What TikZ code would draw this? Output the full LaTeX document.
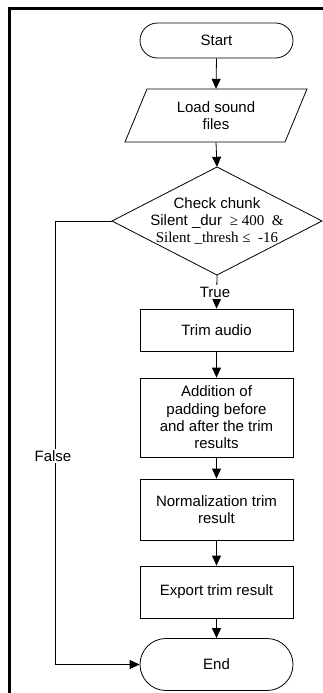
\documentclass[tikz,border=0pt]{standalone}
\usepackage{fontspec}
\setmainfont{Liberation Sans}
\newfontfamily\tnr{Liberation Serif}
\usetikzlibrary{arrows.meta}
\tikzset{
  base/.style={font=\fontsize{15}{17.4}\selectfont, align=center, inner sep=0pt},
  procbox/.style={base, draw, line width=0.8pt, minimum width=153pt},
  term/.style={procbox},
  conn/.style={line width=0.8pt, -{Triangle[length=10pt,width=9pt]}},
  lbl/.style={base, fill=white, inner sep=1.5pt}
}
\begin{document}
\begin{tikzpicture}[x=1pt,y=-1pt]
\useasboundingbox (0,0) rectangle (323,693);
\draw[line width=3pt] (9.5,693) -- (9.5,8.5) -- (323,8.5);

\node[term, minimum height=35pt, rounded corners=17.5pt] (start) at (216.5,40.5) {Start};

\draw[line width=0.8pt] (125,142) -- (147,89) -- (307,89) -- (285,142) -- cycle;
\node[base, minimum width=150pt, minimum height=53pt] (load) at (216,115.5) {Load sound\\files};

\draw[line width=0.8pt] (112,221) -- (217,167) -- (322,221) -- (217,275) -- cycle;
\node[base, minimum width=210pt, minimum height=108pt] (check) at (217,221)
  {Check chunk\\Silent \_dur {\tnr\ ≥ 400 \ \&}\\[-0.5pt]{\tnr Silent \_thresh ≤ \ -16}};

\node[procbox, minimum height=42pt] (trim) at (216.5,330) {Trim audio};
\node[procbox, minimum height=79pt] (add) at (216.5,417.5) {Addition of\\padding before\\and after the trim\\results};
\node[procbox, minimum height=61pt] (norm) at (216.5,509.5) {Normalization trim\\result};
\node[procbox, minimum height=52pt] (export) at (216.5,592) {Export trim result};
\node[term, minimum height=52pt, rounded corners=26pt] (end) at (216.5,664.5) {End};

\coordinate (fc) at (55,221);

\draw[conn] (start.south) -- (load.north);
\draw[conn] (load.south) -- (check.north);
\draw[conn] (check.south) -- (trim.north);
\draw[conn] (trim.south) -- (add.north);
\draw[conn] (add.south) -- (norm.north);
\draw[conn] (norm.south) -- (export.north);
\draw[conn] (export.south) -- (end.north);
\draw[conn] (check.west) -- (fc) |- (end.west);

\node[lbl] (truelbl) at (215,292) {True};
\node[lbl] (falselbl) at (53,456) {False};
\end{tikzpicture}
\end{document}
